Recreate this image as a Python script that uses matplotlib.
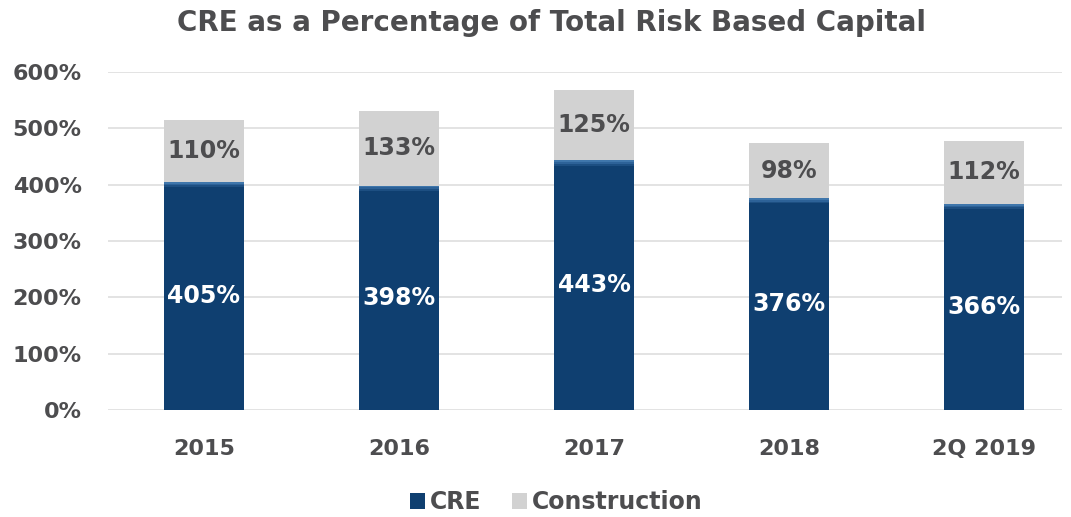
import numpy as np
import matplotlib.pyplot as plt

plt.rcParams['font.family'] = ['DejaVu Sans']

years = ['2015', '2016', '2017', '2018', '2Q 2019']
cre = [405, 398, 443, 376, 366]
construction = [110, 133, 125, 98, 112]

navy = '#0f3f70'
light = '#d2d2d2'
txt = '#4d4d4f'

fig = plt.figure(figsize=(10.71, 5.17), dpi=100)
ax = fig.add_axes([108 / 1071, 107 / 517, 954 / 1071, 338 / 517])

x = np.arange(len(years))
w = 0.41
ax.bar(x, cre, w, color=navy, label='CRE', zorder=3)
ax.bar(x, construction, w, bottom=cre, color=light, label='Construction', zorder=3)

# soft highlight along the top of each CRE segment
shades = ['#1d4f82', '#2d6298', '#3f76ab']
for xi, c in zip(x, cre):
    for j, col in enumerate(shades):
        ax.bar(xi, 3, w, bottom=c - 9 + 3 * j, color=col, zorder=4, linewidth=0)

for xi, c, k in zip(x, cre, construction):
    ax.text(xi, c / 2, f'{c}%', ha='center', va='center', color='white',
            fontsize=17, fontweight='bold', zorder=5)
    ax.text(xi, c + k / 2, f'{k}%', ha='center', va='center', color=txt,
            fontsize=17, fontweight='bold', zorder=5)

ax.set_xlim(-0.492, 4.4)
ax.set_ylim(0, 600)
ax.set_yticks(range(0, 601, 100))
ax.set_yticklabels([f'{v}%' for v in range(0, 601, 100)])
ax.set_xticks(x)
ax.set_xticklabels(years)
ax.tick_params(axis='both', length=0, labelsize=16, labelcolor=txt)
ax.tick_params(axis='y', pad=19)
ax.tick_params(axis='x', pad=21)
for lbl in ax.get_xticklabels() + ax.get_yticklabels():
    lbl.set_fontweight('bold')
ax.grid(axis='y', color='#dedede', linewidth=1.2, zorder=0)
for s in ax.spines.values():
    s.set_visible(False)

fig.text(0.515, 1 - 23 / 517, 'CRE as a Percentage of Total Risk Based Capital',
         ha='center', va='center', fontsize=20, fontweight='bold', color=txt)

leg = ax.legend(loc='center', bbox_to_anchor=(0.47, -0.272), ncol=2, frameon=False,
                handlelength=0.65, handleheight=0.65, handletextpad=0.2,
                columnspacing=1.3, prop={'size': 17, 'weight': 'bold'})
for t in leg.get_texts():
    t.set_color(txt)

fig.savefig('out.png', dpi=100)
